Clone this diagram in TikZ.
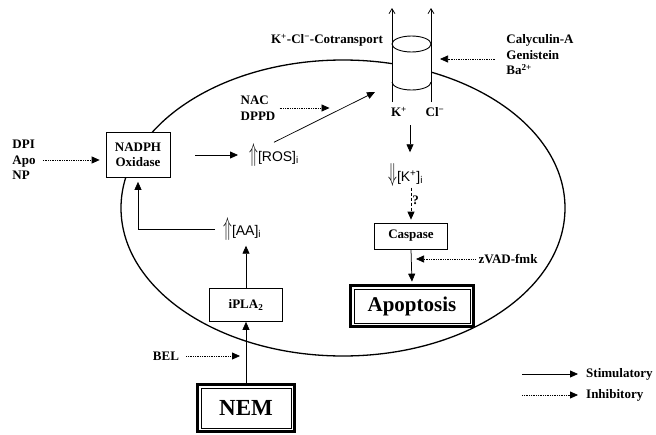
\documentclass[tikz,border=0pt]{standalone}
\usepackage{fontspec}
\setmainfont{Liberation Serif}
\setsansfont{Liberation Sans}
\usepackage{graphicx}
\usetikzlibrary{positioning,arrows.meta,fit,calc}
\newcommand{\upconc}{\scalebox{1}[1.8]{$\Uparrow$}}
\newcommand{\downconc}{\scalebox{1}[1.8]{$\Downarrow$}}

\begin{document}
\begin{tikzpicture}[x=1pt, y=-1pt,
  font=\fontsize{13}{15.5}\selectfont\bfseries,
  box/.style={draw, line width=0.7pt, fill=white, align=center, inner sep=2pt},
  outframe/.style={draw, line width=3pt, inner sep=3.5pt},
  lab/.style={align=left, inner sep=1pt},
  conc/.style={font=\fontsize{14}{16}\selectfont\sffamily, inner sep=1pt},
  arr/.style={-{Triangle[length=8pt, width=7pt]}, line width=0.75pt},
  inh/.style={arr, densely dotted},
  barb/.style={-{Straight Barb[length=5pt, width=6pt]}, line width=0.75pt}]
\useasboundingbox (0,0) rectangle (656,434);
% ---- cell membrane ----
\draw[line width=1.3pt] (343,208) ellipse [x radius=222, y radius=148];
% ---- cotransporter ----
\coordinate (cyl) at (411.5,44);
\fill[white] (392,44) -- (392,82) arc[start angle=180, end angle=0, x radius=19.5, y radius=8] -- (431,44) -- cycle;
\draw[line width=0.9pt] (392,82) arc[start angle=180, end angle=0, x radius=19.5, y radius=8];
\draw[line width=0.9pt, fill=white] (cyl) ellipse [x radius=19.5, y radius=8];
\coordinate (kbot) at (392,102);
\coordinate (ktop) at (392,8);
\coordinate (clbot) at (431,102);
\coordinate (cltop) at (431,8);
\draw[barb] (kbot) -- (ktop);
\draw[barb] (clbot) -- (cltop);
\node[lab] (cotr) at (327,40) {K\textsuperscript{+}-Cl\textsuperscript{−}-Cotransport};
\node[lab] (kion) at (399,112) {K\textsuperscript{+}};
\node[lab] (clion) at (435,112) {Cl\textsuperscript{−}};
\node[lab] (caly) at (540,55) {Calyculin-A\\Genistein\\Ba\textsuperscript{2+}};
\coordinate (cylr) at (440,59);
\draw[inh, shorten <=10pt] (caly.west |- cylr) -- (cylr);
% ---- ROS branch ----
\node[box, minimum width=64pt, minimum height=45pt] (nadph) at (138,155) {NADPH\\Oxidase};
\node[lab] (dpi) at (24,160) {DPI\\Apo\\NP};
\draw[inh, shorten <=6pt, shorten >=6pt] (dpi.east) -- (dpi.east -| nadph.west);
\node[conc, anchor=west] (ros) at (248,155) {\upconc[ROS]\textsubscript{i}};
\draw[arr, shorten <=25pt, shorten >=10pt] (nadph.east) -- (nadph.east -| ros.west);
\node[lab] (nac) at (258,108) {NAC\\DPPD};
\coordinate (cotin) at (375,92);
\draw[arr] (ros.north) -- coordinate[pos=0.55] (rosmid) (cotin);
\draw[inh, shorten <=3pt] (nac.east) -- (nac.east -| rosmid);
% ---- AA branch ----
\node[box, minimum width=73pt, minimum height=33pt] (ipla) at (246,305) {iPLA\textsubscript{2}};
\node[conc, anchor=west] (aa) at (222,229) {\upconc[AA]\textsubscript{i}};
\draw[arr, shorten >=4pt] (ipla.north) -- (ipla.north |- aa.south);
\draw[arr, shorten <=7pt, shorten >=4pt] (aa.west) -| (nadph.south);
\node[box, minimum width=90pt, minimum height=40pt, font=\fontsize{23}{25}\selectfont\bfseries] (nem) at (246,408) {NEM};
\node[outframe, fit=(nem)] (nemframe) {};
\draw[arr] (nemframe.north) -- (ipla.south);
\node[lab] (bel) at (166,356) {BEL};
\draw[inh, shorten <=6pt, shorten >=6pt] (bel.east) -- (bel.east -| ipla.south);
% ---- K+ loss and caspase ----
\node[conc, anchor=west] (kconc) at (387,175) {\downconc[K\textsuperscript{+}]\textsubscript{i}};
\coordinate (cylout) at (410,125);
\draw[arr, shorten >=10pt] (cylout) -- (cylout |- kconc.north);
\node[box, minimum width=73pt, minimum height=26pt] (casp) at (411,236) {Caspase};
\draw[arr, densely dashed, shorten >=3pt] (kconc.south -| casp.north) -- node[lab, right, pos=0.35] {?} (casp.north);
\node[box, minimum width=116pt, minimum height=34pt, font=\fontsize{21}{23}\selectfont\bfseries] (apop) at (412,306) {Apoptosis};
\node[outframe, fit=(apop)] (apopframe) {};
\draw[arr, shorten >=2pt] (casp.south) -- (apopframe.north);
\node[lab] (zvad) at (508,259) {zVAD-fmk};
\draw[inh, shorten <=2pt, shorten >=5pt] (zvad.west) -- (zvad.west -| casp.south);
% ---- legend ----
\node[lab, anchor=west] (stim) at (585,374) {Stimulatory};
\coordinate (stimA) at (522,374);
\draw[arr, shorten >=7pt] (stimA) -- (stim.west);
\node[lab, anchor=west] (inhi) at (585,395) {Inhibitory};
\coordinate (inhA) at (522,395);
\draw[inh, shorten >=7pt] (inhA) -- (inhi.west);
\end{tikzpicture}
\end{document}
